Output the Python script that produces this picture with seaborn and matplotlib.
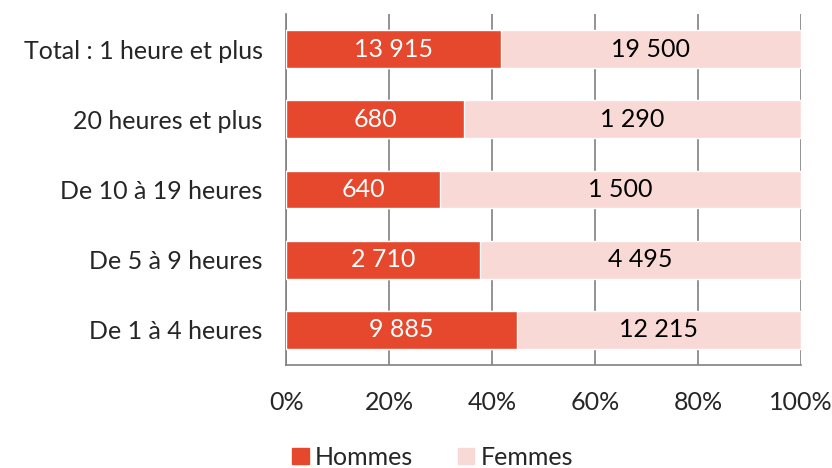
import matplotlib
matplotlib.use('Agg')
import matplotlib.pyplot as plt
from matplotlib.patches import Patch
import seaborn as sb
import pandas as pd
import numpy as np

categories = ['Total : 1 heure et plus', '20 heures et plus', 'De 10 à 19 heures',
              'De 5 à 9 heures', 'De 1 à 4 heures']
hommes = [13915, 680, 640, 2710, 9885]
femmes = [19500, 1290, 1500, 4495, 12215]

red = '#E5482C'
pink = '#F8D9D5'
fs = 18

def fmt(v):
    return '{:,}'.format(v).replace(',', ' ')

data = pd.DataFrame({'cat': categories, 'hommes': hommes, 'femmes': femmes})
data['total'] = data['hommes'] + data['femmes']
data['h_pct'] = data['hommes'] / data['total'] * 100
data['all_pct'] = 100.0

sb.set_style('white')
plt.rcParams['font.family'] = ['Lato', 'DejaVu Sans']

fig = plt.figure(figsize=(8.32, 4.68), dpi=100)
ax = fig.add_axes([0.344, 0.22, 0.619, 0.75])

sb.barplot(data=data, x='all_pct', y='cat', orient='h', color=pink, width=0.54,
           saturation=1, ax=ax, zorder=3)
sb.barplot(data=data, x='h_pct', y='cat', orient='h', color=red, width=0.54,
           saturation=1, ax=ax, zorder=3)

for i, row in data.iterrows():
    ax.text(row['h_pct'] / 2, i, fmt(row['hommes']), ha='center', va='center',
            color='white', fontsize=fs, zorder=4)
    ax.text((row['h_pct'] + 100) / 2, i, fmt(row['femmes']), ha='center', va='center',
            color='black', fontsize=fs, zorder=4)

ax.set_xlim(0, 100)
ax.set_ylim(4.5, -0.5)
ax.set_xticks(np.arange(0, 101, 20))
ax.set_xticklabels(['{}%'.format(t) for t in range(0, 101, 20)], fontsize=fs)
ax.set_yticks(np.arange(-0.5, 5, 1), minor=False)
ax.set_yticklabels([])
ax.set_yticks(np.arange(5), minor=True)
ax.set_yticklabels(categories, minor=True, fontsize=fs)
ax.tick_params(axis='y', which='minor', length=0, pad=17)
ax.tick_params(axis='y', which='major', length=7, color='#808080', width=1.2, direction='out')
ax.tick_params(axis='x', length=7, color='#808080', width=1.2, direction='out', pad=12)
ax.set_xlabel('')
ax.set_ylabel('')
ax.xaxis.grid(True, color='#808080', linewidth=1.2, zorder=0)
ax.set_axisbelow(True)
for s in ['top', 'right']:
    ax.spines[s].set_visible(False)
for s in ['left', 'bottom']:
    ax.spines[s].set_color('#808080')
    ax.spines[s].set_linewidth(1.2)

handles = [Patch(color=red, label='Hommes'), Patch(color=pink, label='Femmes')]
fig.legend(handles=handles, loc='lower center', bbox_to_anchor=(0.52, -0.05), ncol=2,
           frameon=False, fontsize=fs, handlelength=0.65, handleheight=0.65,
           handletextpad=0.25, columnspacing=1.8)

fig.savefig('out.png', dpi=100)
